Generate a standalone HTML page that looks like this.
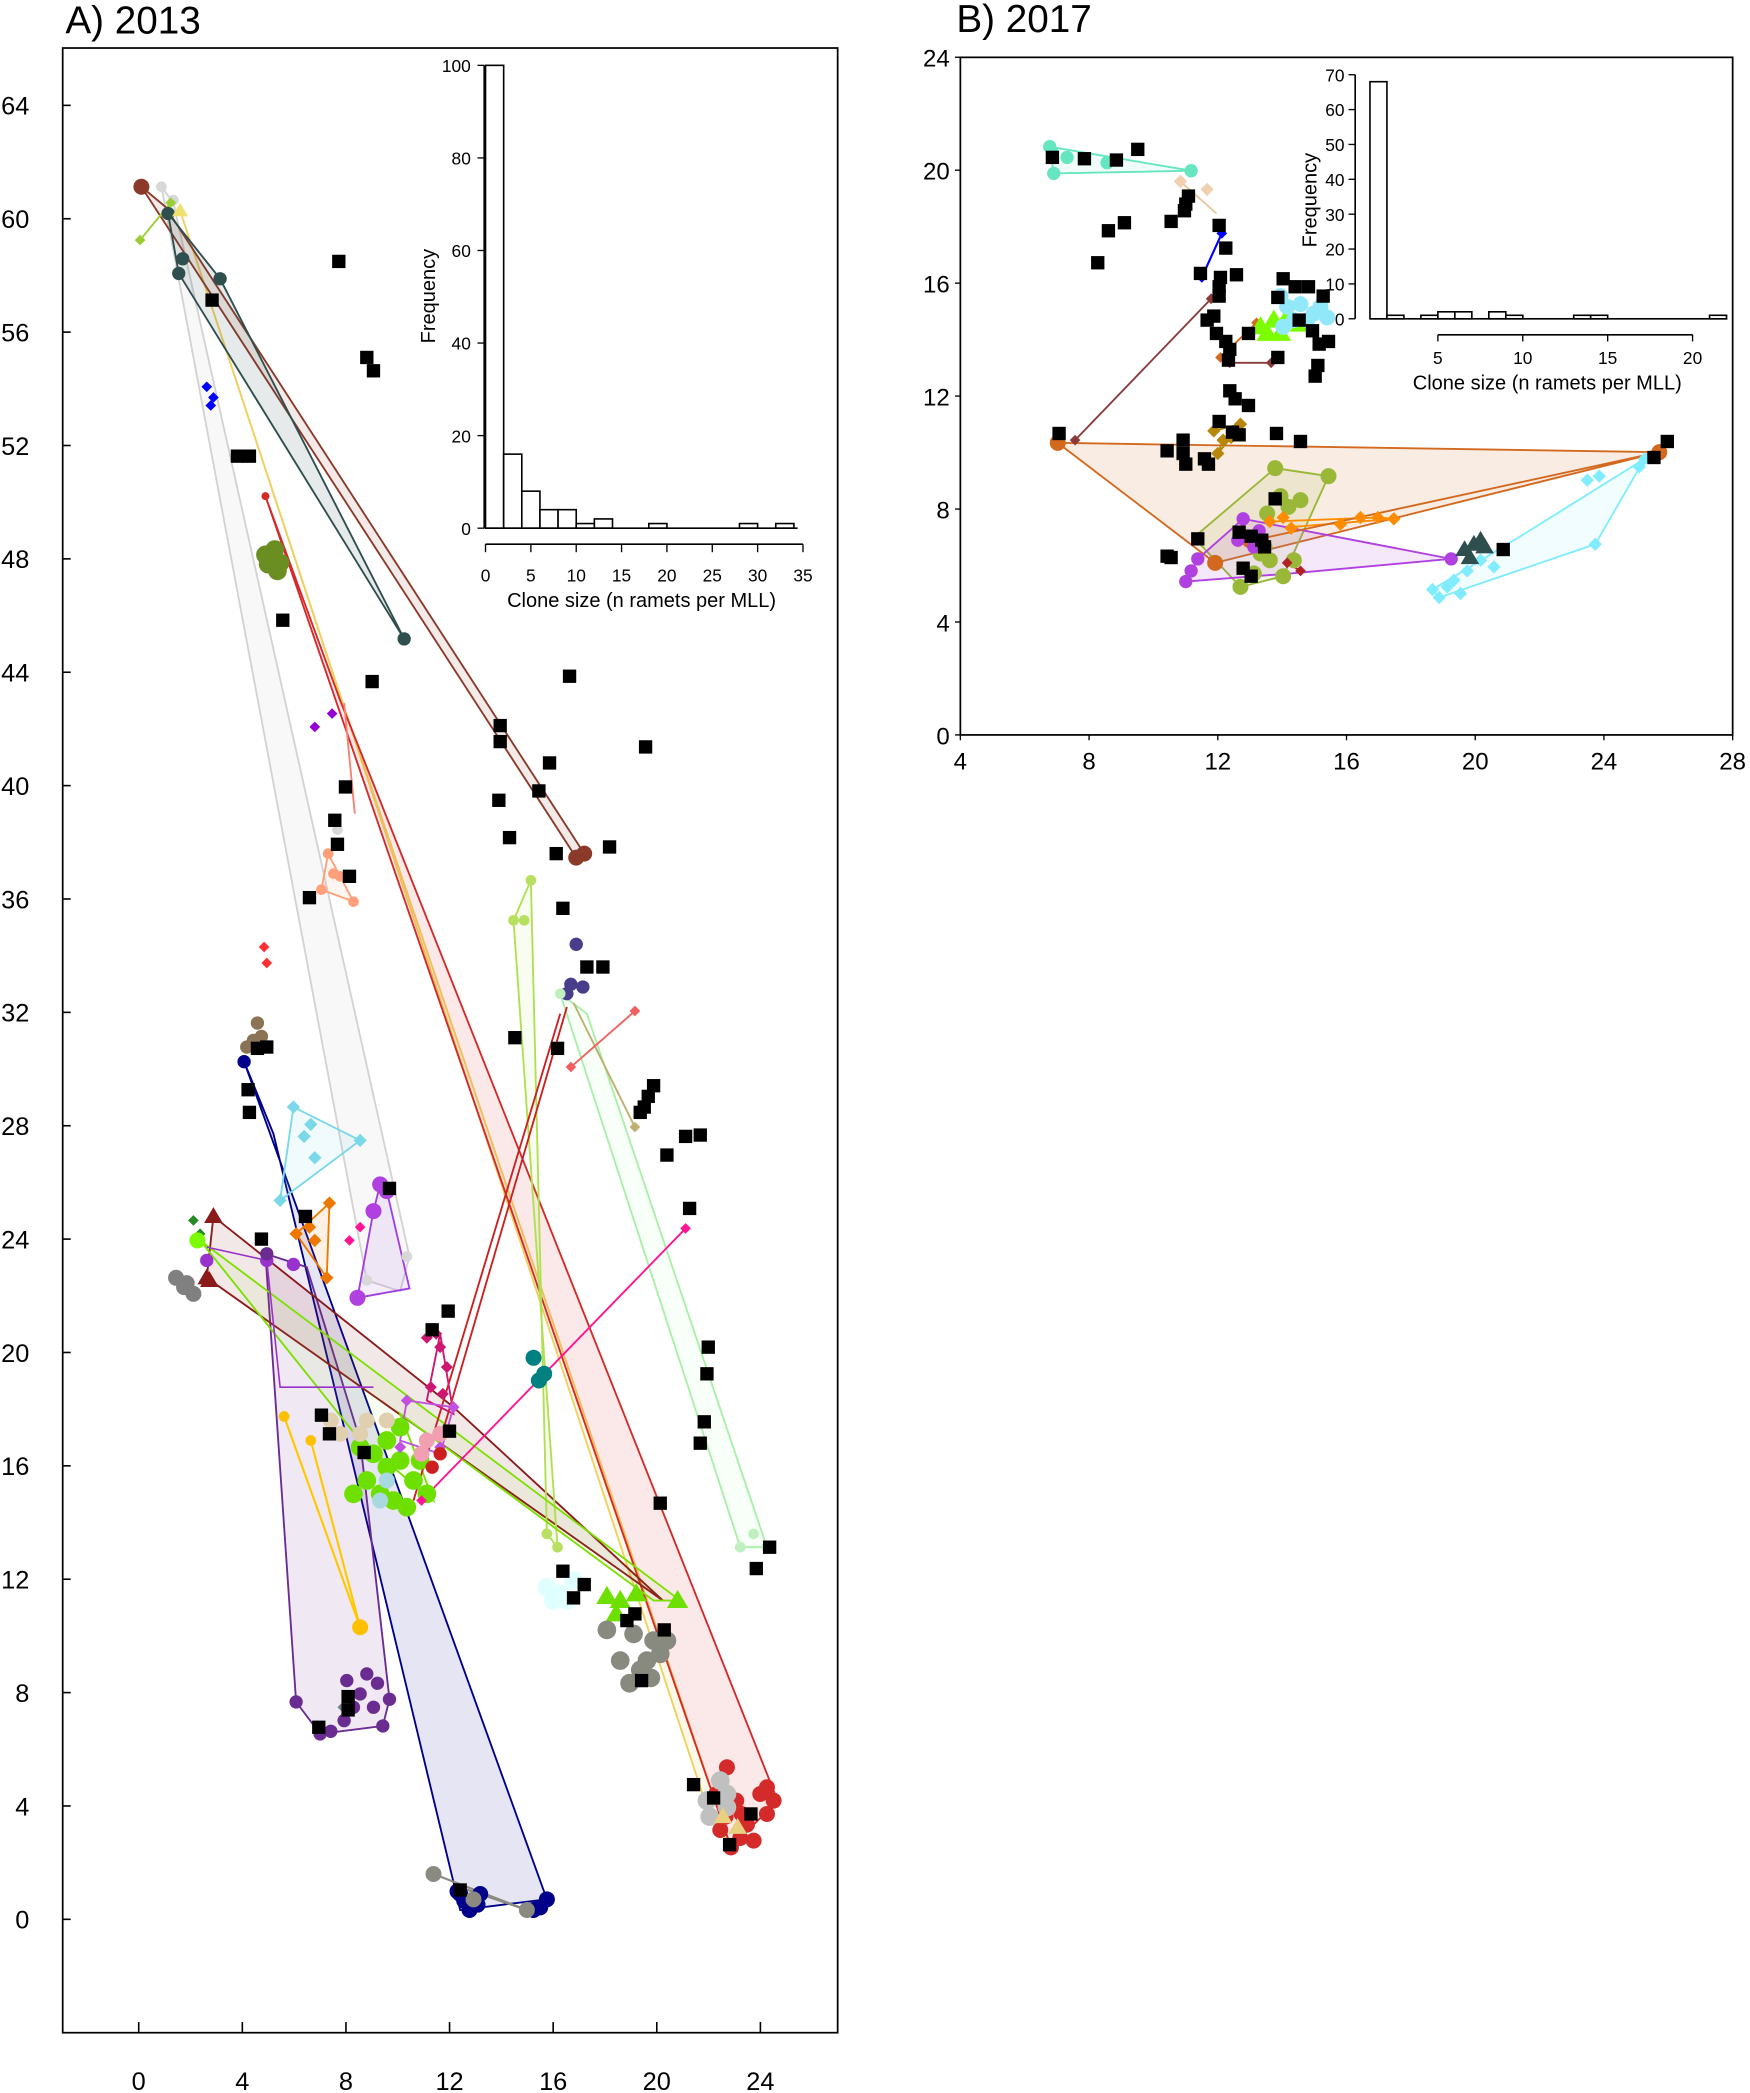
<!DOCTYPE html>
<html><head><meta charset="utf-8"><style>
html,body{margin:0;padding:0;background:#fff}
svg{display:block}
text{font-family:"Liberation Sans",Arial,sans-serif;fill:#000}
</style></head><body>
<svg id="s" width="1750" height="2093" viewBox="0 0 1312 1569.2" preserveAspectRatio="none" xmlns="http://www.w3.org/2000/svg">
<rect x="0" y="0" width="1312" height="1570" fill="#fff"/>
<g id="g"></g>
</svg>
<script>
var out=[];
function P(s){out.push(s);}
function poly(pts,c,fo,sw){P('<polygon points="'+pts.map(p=>p.join(',')).join(' ')+'" fill="'+c+'" fill-opacity="'+(fo||0.1)+'" stroke="'+c+'" stroke-width="'+(sw||1.4)+'"/>');}
function line(pts,c,sw){P('<polyline points="'+pts.map(p=>p.join(',')).join(' ')+'" fill="none" stroke="'+c+'" stroke-width="'+(sw||1.4)+'"/>');}
function circ(pts,c,r){pts.forEach(p=>P('<circle cx="'+p[0]+'" cy="'+p[1]+'" r="'+(r||5)+'" fill="'+c+'"/>'));}
function dia(pts,c,r){r=r||4.5;pts.forEach(p=>P('<polygon points="'+p[0]+','+(p[1]-r)+' '+(p[0]+r)+','+p[1]+' '+p[0]+','+(p[1]+r)+' '+(p[0]-r)+','+p[1]+'" fill="'+c+'"/>'));}
function tri(pts,c,r){r=r||7;pts.forEach(p=>P('<polygon points="'+p[0]+','+(p[1]-r)+' '+(p[0]+r)+','+(p[1]+r*0.7)+' '+(p[0]-r)+','+(p[1]+r*0.7)+'" fill="'+c+'"/>'));}
function sq(pts,h){h=h||5;pts.forEach(p=>P('<rect x="'+(p[0]-h)+'" y="'+(p[1]-h)+'" width="'+(2*h)+'" height="'+(2*h)+'" fill="#000"/>'));}
function T(x,y,t,sz,anc,extra){P('<text x="'+x+'" y="'+y+'" font-size="'+sz+'" text-anchor="'+(anc||'middle')+'" '+(extra||'')+'>'+t+'</text>');}

/* ===== Panel A ===== */
T(49,25,'A) 2013',29,'start');
P('<rect x="47" y="36" width="581" height="1488" fill="none" stroke="#000" stroke-width="1.3"/>');
for(var v=0;v<=64;v+=4){var y=1439-21.25*v;P('<line x1="47" x2="53" y1="'+y+'" y2="'+y+'" stroke="#000" stroke-width="1.2"/>');T(22,y+7,v,19,'end');}
for(var v=0;v<=24;v+=4){var x=104+19.42*v;P('<line x1="'+x+'" x2="'+x+'" y1="1524" y2="1516" stroke="#000" stroke-width="1.2"/>');T(x,1567,v,19);}

poly([[183,796],[205,850],[345,1432],[410,1424]],'#00008b',0.1);
poly([[199,940],[230,950],[270,1080],[292,1274],[287,1294],[240,1300],[222,1276]],'#6a2c91',0.1);
poly([[121,140],[130,152],[307,942],[300,968],[275,960]],'#d3d3d3',0.15);
poly([[135,158],[258,530],[548,1385],[530,1355]],'#f0d060',0.15);
poly([[199,372],[255,525],[583,1350],[548,1385]],'#d42a2a',0.1);
poly([[106,140],[124,155],[438,640],[432,643]],'#8b3a2a',0.1);
poly([[126,160],[165,209],[303,479],[134,205]],'#2f4f4f',0.12);
poly([[160,912],[340,1055],[497,1200],[155,958]],'#8b1a1a',0.1);
poly([[420,745],[440,760],[575,1160],[555,1160]],'#a8f0a8',0.08);
poly([[398,660],[385,690],[418,1160],[410,1150]],'#b0e050',0.08);
poly([[220,830],[270,855],[210,900]],'#7ad8e8',0.1);
poly([[285,888],[290,893],[307,966],[268,973],[280,908]],'#a040e0',0.1);
poly([[222,925],[247,902],[245,958]],'#ee7700',0.1);
poly([[246,640],[265,676],[241,667]],'#ffa07a',0.1);
poly([[150,930],[270,1080],[325,1125],[300,1060],[490,1200],[510,1200]],'#7ce000',0.06);
line([[310,1125],[420,760]],'#cc2020');line([[330,1080],[425,755]],'#cc2020');
line([[316,1125],[514,921]],'#ff1493');
line([[430,752],[476,845]],'#bdb070');
line([[428,800],[476,758]],'#f06060');
line([[258,527],[266,610]],'#fa8072');
line([[105,180],[128,152]],'#9acd32');
line([[213,1062],[270,1220],[233,1080]],'#ffc800',1.6);
line([[325,1405],[395,1432],[345,1415]],'#8a8a80',1.6);
line([[330,1000],[340,1060],[320,1050],[330,1000]],'#cc1870');
line([[305,1050],[340,1055],[330,1090],[300,1080],[305,1050]],'#c050e0');
line([[155,935],[200,945],[210,1040],[280,1040]],'#9932cc',1.2);
circ([[126,160],[165,209],[303,479],[137,194],[134,205]],'#2f4f4f',5);
circ([[106,140],[438,640],[432,643]],'#8b3a2a',6);
circ([[121,140],[130,150],[305,942],[275,960],[253,622]],'#d8d8d8',4);
dia([[105,180],[128,152]],'#9acd32',4);
tri([[135,158]],'#f0e070',6);
dia([[155,290],[160,298],[158,304]],'#0000ff',4);
circ([[199,416],[204,420],[208,428],[201,423],[206,412],[210,422]],'#6b8e23',7);
circ([[199,372]],'#d42a2a',3);
dia([[236,545],[249,535]],'#9400d3',4);
dia([[198,710],[200,722]],'#ff3030',4);
circ([[246,640],[255,657],[265,676],[241,667],[250,655]],'#ffa07a',4);
circ([[193,767],[196,777],[185,785],[190,780]],'#8b7355',5);
circ([[183,796]],'#00008b',5);
dia([[220,830],[270,855],[210,900],[233,843],[228,852],[236,868]],'#7ad8e8',5);
dia([[222,925],[247,902],[245,958],[232,920],[236,930]],'#ee7700',5);
dia([[262,930],[270,920]],'#ff1493',4);
circ([[285,888],[290,893],[268,973],[280,908]],'#b040e0',6);
tri([[160,912],[155,958],[157,960]],'#8b1a1a',7);
dia([[145,915],[150,925]],'#228b22',4);
circ([[148,930]],'#7cfc00',6);
circ([[155,945],[200,945],[220,948]],'#9932cc',5);
circ([[132,958],[140,962],[145,970],[138,965]],'#808080',6);
circ([[270,1085],[280,1090],[290,1100],[300,1095],[310,1110],[275,1110],[285,1120],[295,1125],[305,1130],[265,1120],[315,1095],[320,1120],[290,1080],[300,1070]],'#6ee000',7);
circ([[248,1065],[255,1075],[275,1065],[290,1065],[270,1075]],'#e0d0b0',6);
circ([[290,1110],[285,1125]],'#a8d8e0',6);
circ([[400,1018],[408,1030],[404,1035]],'#008080',6);
dia([[320,1003],[330,1010],[335,1025],[323,1040],[332,1045],[327,1000]],'#cc1870',4.5);
dia([[305,1050],[340,1055],[330,1085],[300,1085]],'#c050e0',4.5);
circ([[320,1080],[330,1075],[316,1090]],'#f0a0b0',6);
circ([[330,1090],[324,1100]],'#cc2020',5);
circ([[270,1220]],'#ffc000',6);
circ([[213,1062],[233,1080]],'#ffc000',4);
circ([[425,745],[432,708],[437,740],[428,738]],'#483d8b',5);
dia([[476,758],[428,800]],'#f06060',4);
dia([[476,845]],'#bdb070',4);
dia([[514,921],[316,1125]],'#ff1493',4);
circ([[385,690],[398,660],[393,690],[418,1160],[410,1150]],'#b8e060',4);
circ([[420,745],[555,1160],[575,1160],[565,1150]],'#c0f0c0',4);
circ([[410,1190],[420,1195],[430,1185],[425,1200],[415,1200]],'#e0ffff',7);
tri([[455,1197],[465,1200],[477,1195],[462,1210],[508,1200]],'#6ee000',8);
circ([[455,1222],[475,1225],[490,1230],[465,1245],[485,1245],[480,1252],[495,1240],[488,1258],[472,1262],[500,1230]],'#888a80',7);
circ([[200,940],[222,1276],[240,1300],[287,1294],[292,1274],[270,1270],[275,1255],[265,1280],[280,1280],[283,1262],[260,1260],[258,1290],[248,1298]],'#6a2c91',5);
dia([[258,1280]],'#708090',5);
circ([[345,1420],[352,1432],[358,1428],[348,1425],[360,1420],[405,1430],[410,1424],[400,1432],[343,1418]],'#00008b',6);
circ([[325,1405],[395,1432],[355,1424]],'#8a8a80',6);
circ([[537,1345],[544,1362],[552,1350],[560,1368],[565,1380],[555,1378],[548,1385],[570,1345],[575,1340],[580,1350],[575,1360],[545,1325],[540,1372],[556,1360]],'#d42a2a',6);
circ([[530,1350],[540,1335],[545,1345],[532,1362],[545,1355]],'#c0c0c0',7);
tri([[542,1362],[553,1370]],'#e8d080',7);
sq([[254,196],[275,268],[280,278],[159,225],[178,342],[187,342],[212,465],[279,511],[427,507],[375,544],[375,556],[412,572],[374,600],[382,628],[404,593],[417,640],[457,635],[422,681],[440,725],[452,725],[418,786],[386,778],[484,560],[490,814],[486,822],[483,830],[480,834],[514,852],[525,851],[500,866],[517,906],[531,1010],[530,1030],[528,1066],[525,1082],[495,1127],[577,1160],[567,1176],[262,657],[253,633],[259,590],[251,615],[232,673],[200,785],[193,786],[186,817],[187,834],[196,929],[229,912],[292,891],[336,983],[324,997],[337,1073],[273,1089],[241,1061],[247,1075],[239,1295],[261,1272],[261,1282],[438,1188],[430,1198],[422,1178],[470,1215],[481,1260],[520,1338],[547,1383],[563,1360],[535,1348],[345,1417],[498,1222],[476,1210]]);

var bA=[[0,100],[2,16],[4,8],[6,4],[8,4],[10,1],[12,2],[18,1],[28,1],[32,1]];
bA.forEach(b=>{var x=364+b[0]*6.8,h=b[1]*3.47;P('<rect x="'+x+'" y="'+(396-h)+'" width="13.6" height="'+h+'" fill="#fff" stroke="#000" stroke-width="1.2"/>');});
P('<line x1="364" x2="598" y1="396" y2="396" stroke="#000" stroke-width="1.2"/>');
P('<line x1="363" x2="363" y1="49" y2="396" stroke="#000" stroke-width="1.2"/>');
for(var v=0;v<=100;v+=20){var y=396-v*3.47;P('<line x1="358" x2="363" y1="'+y+'" y2="'+y+'" stroke="#000"/>');T(353,y+5,v,13,'end');}
P('<line x1="364" x2="602" y1="408" y2="408" stroke="#000" stroke-width="1.2"/>');
for(var v=0;v<=35;v+=5){var x=364+v*6.8;P('<line x1="'+x+'" x2="'+x+'" y1="408" y2="414" stroke="#000"/>');T(x,436,v,13);}
T(481,455,'Clone size (n ramets per MLL)',15);
T(326,222,'Frequency',15,'middle','transform="rotate(-90 326 222)"');

/* ===== Panel B ===== */
T(717,24,'B) 2017',29,'start');
P('<rect x="720" y="43" width="579" height="508" fill="none" stroke="#000" stroke-width="1.3"/>');
for(var v=0;v<=24;v+=4){var y=551-21.17*v;T(712,y+7,v,18,'end');P('<line x1="716" x2="720" y1="'+y+'" y2="'+y+'" stroke="#000"/>');}
for(var v=4;v<=28;v+=4){var x=720+24.125*(v-4);T(x,577,v,18);P('<line x1="'+x+'" x2="'+x+'" y1="551" y2="555" stroke="#000"/>');}
poly([[793,332],[1245,339],[1244,339],[911,422]],'#d2691e',0.13);
poly([[787,110],[893,128],[790,130]],'#66e6c0',0.1);
poly([[895,403],[956,351],[996,357],[962,432],[930,440]],'#9ab838',0.12);
poly([[898,419],[932,389],[1088,419],[967,430],[889,436]],'#b040e0',0.12);
poly([[1233,344],[1196,408],[1079,448],[1074,442],[1140,402]],'#80ecff',0.1);
line([[885,136],[912,160]],'#e8c8a0');
line([[901,208],[916,175]],'#0000ff',1.6);
line([[806,330],[908,224]],'#8b3a3a');
line([[922,272],[953,272]],'#8b3a3a');
line([[915,268],[942,242]],'#d2691e');
line([[910,323],[930,318],[917,330],[913,340],[923,328]],'#b8860b');
line([[952,391],[1033,388],[1045,389],[970,395]],'#ff8c00');
line([[940,405],[1244,339]],'#d2691e');
line([[965,422],[975,428]],'#b22222');
circ([[787,110],[789,115],[893,128],[790,130],[800,118],[830,122]],'#66e6c0',5);
dia([[885,136],[905,142]],'#f0d0b0',5);
dia([[901,208],[916,175]],'#0000ff',4);
dia([[806,330],[908,224],[922,272],[953,272]],'#8b3a3a',4);
dia([[915,268],[942,242]],'#d2691e',4);
dia([[910,323],[930,318],[917,330],[913,340],[923,328]],'#b8860b',5);
circ([[793,332],[1244,339],[911,422],[937,405]],'#d2691e',6);
circ([[956,351],[996,357],[962,432],[930,440],[960,372],[966,380],[975,375],[945,415],[952,420],[948,410],[940,430],[970,420],[950,385]],'#9ab838',6);
circ([[898,419],[932,389],[1088,419],[889,436],[893,428],[928,405],[944,398],[940,410]],'#b040e0',5);
dia([[952,391],[962,388],[1020,388],[1033,388],[1045,389],[968,396],[1005,393]],'#ff8c00',5);
dia([[1233,344],[1229,350],[1196,408],[1079,448],[1074,442],[1090,435],[1100,428],[1085,440],[1095,445],[1110,420],[1120,425],[1190,360],[1199,357]],'#80ecff',5);
tri([[1098,412],[1105,408],[1110,405],[1113,410],[1102,418]],'#2f4f4f',7);
tri([[945,245],[955,240],[965,238],[975,243],[950,250],[960,250]],'#7cfc00',8);
circ([[960,222],[965,230],[975,228],[985,235],[970,240],[980,240],[990,230],[962,245],[995,238]],'#90e8f8',6);
dia([[965,422],[975,428]],'#b22222',4);
sq([[789,118],[813,119],[837,120],[853,112],[823,197],[831,173],[843,167],[878,166],[891,147],[889,153],[888,158],[914,169],[919,186],[915,208],[910,237],[900,205],[914,215],[914,222],[927,206],[905,240],[912,250],[919,256],[922,262],[921,270],[936,250],[962,209],[958,223],[971,215],[981,215],[992,222],[974,240],[984,248],[989,258],[996,256],[958,268],[988,274],[986,282],[922,293],[926,299],[936,304],[914,316],[924,324],[929,326],[957,325],[887,330],[887,340],[875,338],[903,344],[889,348],[906,348],[794,325],[975,331],[1240,343],[1250,331],[1127,412],[948,410],[956,374],[946,405],[929,399],[938,402],[898,404],[875,417],[878,418],[938,432],[932,426]]);

var bB=[[1,68],[2,1],[4,1],[5,2],[6,2],[8,2],[9,1],[13,1],[14,1],[21,1]];
bB.forEach(b=>{var x=1078+(b[0]-5)*12.73,h=b[1]*2.614;P('<rect x="'+x+'" y="'+(239-h)+'" width="12.73" height="'+h+'" fill="#fff" stroke="#000" stroke-width="1.2"/>');});
P('<line x1="1027" x2="1295" y1="239" y2="239" stroke="#000" stroke-width="1.2"/>');
P('<line x1="1016" x2="1016" y1="56" y2="239" stroke="#000" stroke-width="1.2"/>');
for(var v=0;v<=70;v+=10){var y=239-v*2.614;P('<line x1="1011" x2="1016" y1="'+y+'" y2="'+y+'" stroke="#000"/>');T(1008,y+5,v,13,'end');}
P('<line x1="1078" x2="1269" y1="251" y2="251" stroke="#000" stroke-width="1.2"/>');
for(var v=5;v<=20;v+=5){var x=1078+(v-5)*12.73;P('<line x1="'+x+'" x2="'+x+'" y1="251" y2="256" stroke="#000"/>');T(x,273,v,13);}
T(1160,292,'Clone size (n ramets per MLL)',15);
T(987,150,'Frequency',15,'middle','transform="rotate(-90 987 150)"');

document.getElementById('g').innerHTML=out.join('');
</script>
</body></html>
